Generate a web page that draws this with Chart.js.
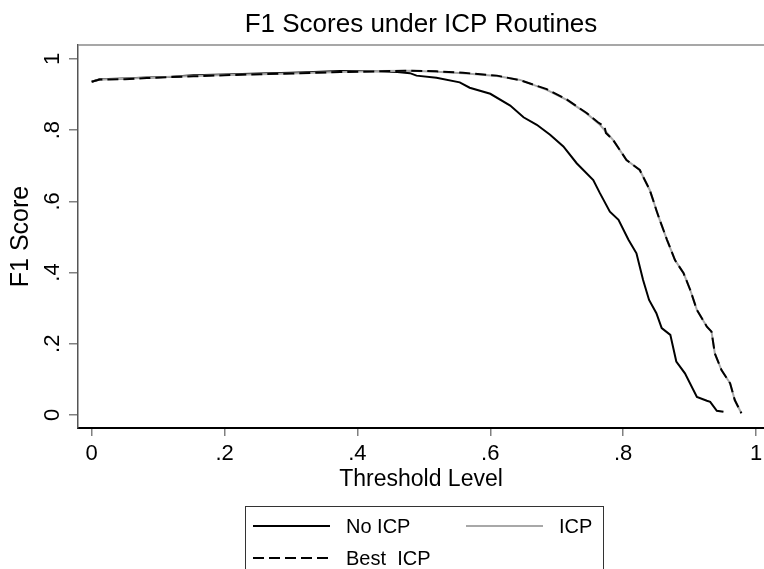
<!DOCTYPE html>
<html>
<head>
<meta charset="utf-8">
<title>F1 Scores under ICP Routines</title>
<script src="https://cdn.jsdelivr.net/npm/chart.js@4.4.1/dist/chart.umd.min.js"></script>
<style>
    html, body { margin: 0; padding: 0; background: #fff; }
</style>
</head>
<body>
<canvas id="f1Chart" width="764" height="569"></canvas>
<script>
// tick values + labels (stata style, no leading zero)
var xTickValues = [0, 0.2, 0.4, 0.6, 0.8, 1];
var xTickLabels = ['0', '.2', '.4', '.6', '.8', '1'];
var yTickValues = [0, 0.2, 0.4, 0.6, 0.8, 1];
var yTickLabels = ['0', '.2', '.4', '.6', '.8', '1'];

// No ICP
var noIcpX = [0, 0.012, 0.05, 0.083, 0.12, 0.153, 0.2, 0.253, 0.3, 0.334, 0.374, 0.41, 0.434, 0.46, 0.479, 0.489, 0.519, 0.554, 0.569, 0.6, 0.63, 0.65, 0.67, 0.69, 0.71, 0.73, 0.755, 0.765, 0.78, 0.793, 0.808, 0.82, 0.83, 0.839, 0.85, 0.858, 0.871, 0.88, 0.893, 0.911, 0.926, 0.931, 0.941, 0.951];
var noIcpY = [0.936, 0.943, 0.945, 0.948, 0.950, 0.954, 0.956, 0.959, 0.961, 0.963, 0.966, 0.966, 0.965, 0.963, 0.960, 0.953, 0.947, 0.934, 0.919, 0.902, 0.869, 0.836, 0.815, 0.787, 0.754, 0.707, 0.660, 0.623, 0.571, 0.548, 0.492, 0.454, 0.379, 0.323, 0.286, 0.244, 0.225, 0.150, 0.117, 0.051, 0.040, 0.037, 0.012, 0.009];

// ICP
var icpX = [0, 0.012, 0.05, 0.083, 0.12, 0.153, 0.2, 0.253, 0.3, 0.334, 0.374, 0.434, 0.48, 0.519, 0.559, 0.61, 0.645, 0.685, 0.715, 0.745, 0.765, 0.785, 0.805, 0.825, 0.84, 0.845, 0.85, 0.855, 0.866, 0.878, 0.891, 0.901, 0.911, 0.926, 0.933, 0.938, 0.948, 0.961, 0.968, 0.978];
var icpY = [0.936, 0.942, 0.944, 0.947, 0.950, 0.952, 0.955, 0.957, 0.959, 0.961, 0.963, 0.966, 0.967, 0.964, 0.960, 0.952, 0.941, 0.913, 0.885, 0.847, 0.815, 0.772, 0.716, 0.688, 0.632, 0.604, 0.575, 0.548, 0.492, 0.435, 0.398, 0.351, 0.295, 0.248, 0.234, 0.173, 0.126, 0.089, 0.042, 0.005];

// Best ICP
var bestX = [0, 0.012, 0.05, 0.083, 0.12, 0.153, 0.2, 0.253, 0.3, 0.334, 0.374, 0.434, 0.48, 0.519, 0.559, 0.61, 0.645, 0.685, 0.715, 0.745, 0.762, 0.772, 0.774, 0.785, 0.805, 0.825, 0.84, 0.845, 0.85, 0.855, 0.866, 0.878, 0.891, 0.901, 0.911, 0.926, 0.933, 0.938, 0.948, 0.961, 0.968, 0.978];
var bestY = [0.936, 0.942, 0.943, 0.946, 0.949, 0.951, 0.954, 0.957, 0.959, 0.961, 0.963, 0.965, 0.967, 0.965, 0.961, 0.953, 0.940, 0.915, 0.886, 0.848, 0.822, 0.810, 0.792, 0.772, 0.716, 0.688, 0.632, 0.604, 0.575, 0.548, 0.492, 0.435, 0.398, 0.351, 0.295, 0.248, 0.234, 0.173, 0.126, 0.089, 0.042, 0.005];

var FONT = '"Liberation Sans", Arial, sans-serif';

function toPoints(xs, ys) {
    return xs.map(function (x, i) { return { x: x, y: ys[i] }; });
}

// top frame line + boxed legend (stata look)
var stataFrame = {
    id: 'stataFrame',
    afterDraw: function (chart) {
        var ctx = chart.ctx;
        var area = chart.chartArea;
        ctx.save();
        ctx.strokeStyle = '#8a8a8a';
        ctx.lineWidth = 1.5;
        ctx.beginPath();
        ctx.moveTo(area.left, area.top);
        ctx.lineTo(area.right, area.top);
        ctx.stroke();

        // legend box
        ctx.strokeStyle = '#333';
        ctx.lineWidth = 1;
        ctx.strokeRect(245.5, 506.5, 358, 80);

        var items = [
            { label: 'No ICP', color: '#000', dash: [], x: 253, y: 526 },
            { label: 'ICP', color: '#a8a8a8', dash: [], x: 466, y: 526, textX: 559 },
            { label: 'Best  ICP', color: '#000', dash: [11, 5], x: 253, y: 558 }
        ];
        ctx.font = '20px ' + FONT;
        ctx.fillStyle = '#000';
        ctx.textBaseline = 'middle';
        items.forEach(function (it) {
            ctx.strokeStyle = it.color;
            ctx.lineWidth = 2;
            ctx.setLineDash(it.dash);
            ctx.beginPath();
            ctx.moveTo(it.x, it.y);
            ctx.lineTo(it.x + 77, it.y);
            ctx.stroke();
            ctx.setLineDash([]);
            ctx.fillText(it.label, it.textX || (it.x + 93), it.y + 1);
        });
        ctx.restore();
    }
};

var ctx = document.getElementById('f1Chart').getContext('2d');
var myChart = new Chart(ctx, {
    type: 'line',
    data: {
        datasets: [
            {
                label: 'Best ICP',
                data: toPoints(bestX, bestY),
                borderColor: '#000',
                borderWidth: 2,
                borderDash: [11, 5],
                order: 0
            },
            {
                label: 'ICP',
                data: toPoints(icpX, icpY),
                borderColor: '#a8a8a8',
                borderWidth: 2,
                order: 1
            },
            {
                label: 'No ICP',
                data: toPoints(noIcpX, noIcpY),
                borderColor: '#000',
                borderWidth: 2,
                order: 2
            }
        ]
    },
    options: {
        responsive: false,
        animation: false,
        elements: {
            point: { radius: 0 },
            line: { tension: 0, fill: false }
        },
        layout: {
            padding: { left: 0, right: 0, top: 0, bottom: 71 }
        },
        plugins: {
            legend: { display: false },
            tooltip: { enabled: false },
            title: {
                display: true,
                text: 'F1 Scores under ICP Routines',
                fullSize: false,
                color: '#000',
                font: { family: FONT, size: 26, weight: 'normal' },
                padding: { top: 9.4, bottom: 4.4 }
            }
        },
        scales: {
            x: {
                type: 'linear',
                position: 'bottom',
                min: -0.0206,
                max: 1.012,
                afterBuildTicks: function (axis) {
                    axis.ticks = xTickValues.map(function (v) { return { value: v }; });
                },
                afterFit: function (axis) {
                    axis.height = 70;
                    axis.paddingLeft = 0;
                    axis.paddingRight = 0;
                },
                grid: { drawOnChartArea: false, drawTicks: true, tickLength: 8, color: '#808080', lineWidth: 1.5 },
                border: { color: '#000', width: 2 },
                ticks: {
                    color: '#000',
                    font: { family: FONT, size: 22 },
                    padding: 5,
                    maxRotation: 0,
                    minRotation: 0,
                    autoSkip: false,
                    callback: function (v, i) { return xTickLabels[i]; }
                },
                title: {
                    display: true,
                    text: 'Threshold Level',
                    color: '#000',
                    font: { family: FONT, size: 23 },
                    padding: { top: 0, bottom: 4.2 }
                }
            },
            y: {
                type: 'linear',
                position: 'left',
                min: -0.0365,
                max: 1.039,
                afterBuildTicks: function (axis) {
                    axis.ticks = yTickValues.map(function (v) { return { value: v }; });
                },
                afterFit: function (axis) {
                    axis.width = 78;
                    axis.paddingTop = 0;
                    axis.paddingBottom = 0;
                },
                grid: { drawOnChartArea: false, drawTicks: true, tickLength: 9, color: '#808080', lineWidth: 1.5 },
                border: { color: '#555', width: 1.5 },
                ticks: {
                    color: '#000',
                    font: { family: FONT, size: 22 },
                    padding: 7,
                    minRotation: 90,
                    maxRotation: 90,
                    crossAlign: 'center',
                    autoSkip: false,
                    callback: function (v, i) { return yTickLabels[i]; }
                },
                title: {
                    display: true,
                    text: 'F1 Score',
                    color: '#000',
                    font: { family: FONT, size: 25 },
                    padding: { top: 6, bottom: 0 }
                }
            }
        }
    },
    plugins: [stataFrame]
});
</script>
</body>
</html>
